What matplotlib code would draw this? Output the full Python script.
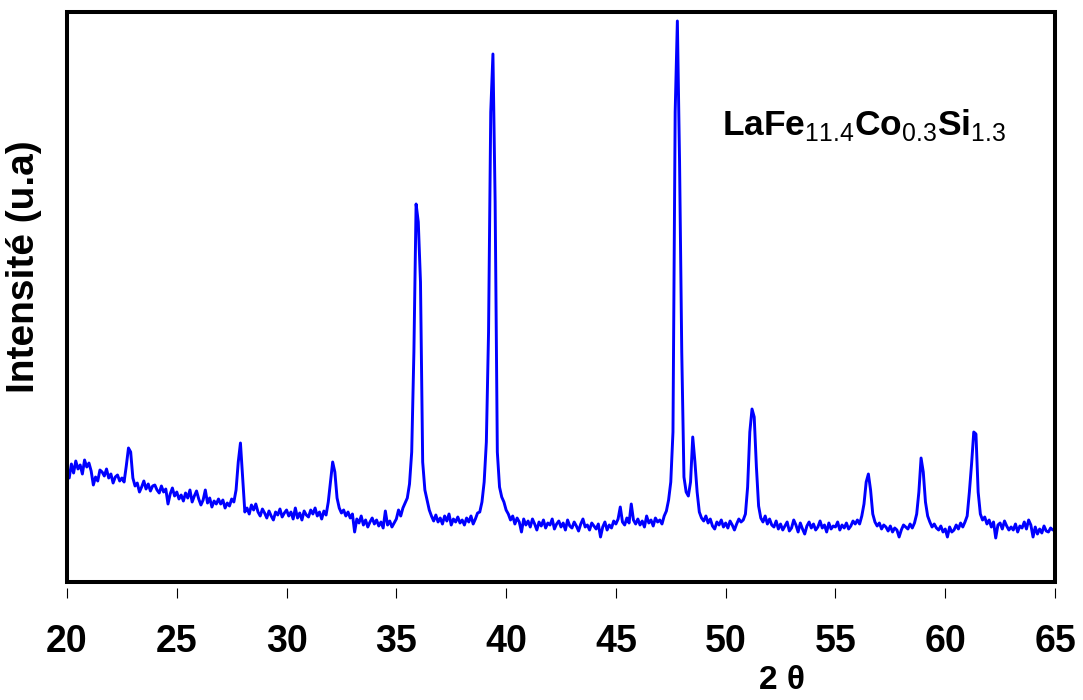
import numpy as np
import matplotlib.pyplot as plt
from matplotlib.patches import Rectangle

plt.rcParams['font.family'] = 'Liberation Sans'
plt.rcParams['mathtext.fontset'] = 'custom'
plt.rcParams['mathtext.rm'] = 'Liberation Sans'
plt.rcParams['mathtext.bf'] = 'Liberation Sans:bold'

# intensity (u.a), one value every 0.1 degree of 2 theta
intensity_20s = [112, 104, 118, 109, 121, 113, 117, 108, 122, 115,
                 119, 111, 97, 105, 101, 112, 110, 106, 113, 104,
                 108, 99, 105, 107, 101, 104, 100, 116, 134, 130,
                 104, 96, 99, 90, 95, 101, 93, 98, 91, 96,
                 97, 92, 89, 96, 90, 93, 78, 88, 94, 86,
                 90, 83, 87, 81, 89, 84, 92, 80, 86, 91,
                 83, 77, 82, 92, 79, 84, 75, 81, 78, 83,
                 78, 82, 74, 79, 76, 83, 80, 92, 120, 139,
                 105, 70, 74, 68, 77, 72, 78, 70, 66, 73,
                 69, 64, 71, 66, 62, 70, 67, 73, 65, 69]
intensity_30s = [72, 66, 70, 63, 74, 64, 69, 62, 71, 67,
                 65, 72, 68, 74, 66, 70, 63, 71, 67, 80,
                 100, 120, 110, 84, 74, 69, 72, 66, 70, 64,
                 68, 50, 63, 59, 66, 57, 62, 55, 60, 64,
                 58, 62, 56, 60, 54, 71, 57, 61, 55, 59,
                 63, 72, 66, 74, 79, 84, 98, 130, 230, 378,
                 360, 300, 120, 92, 82, 72, 66, 61, 67, 60,
                 64, 58, 66, 61, 68, 57, 63, 60, 65, 59,
                 62, 57, 64, 60, 66, 58, 63, 69, 70, 80,
                 100, 140, 250, 470, 528, 380, 130, 95, 85, 80]
intensity_40s = [72, 68, 62, 66, 58, 64, 60, 50, 63, 57,
                 61, 55, 63, 58, 52, 60, 56, 62, 54, 59,
                 57, 63, 53, 58, 61, 55, 59, 52, 62, 56,
                 54, 60, 56, 51, 58, 63, 55, 57, 52, 59,
                 56, 53, 58, 45, 55, 60, 52, 57, 54, 61,
                 58, 63, 75, 60, 57, 64, 59, 78, 62, 58,
                 63, 57, 61, 55, 66, 59, 62, 56, 64, 60,
                 62, 58, 66, 71, 82, 100, 150, 470, 561, 420,
                 230, 105, 90, 86, 100, 145, 120, 90, 70, 64,
                 61, 66, 59, 63, 56, 53, 60, 57, 62, 55]
intensity_50s = [59, 54, 61, 57, 52, 58, 63, 60, 62, 68,
                 95, 150, 173, 165, 115, 76, 64, 60, 66, 58,
                 63, 57, 55, 61, 53, 58, 52, 56, 60, 51,
                 54, 62, 57, 50, 59, 53, 48, 56, 60, 54,
                 58, 52, 55, 61, 54, 57, 50, 59, 53, 56,
                 55, 60, 52, 57, 54, 59, 53, 56, 61, 58,
                 62, 58, 66, 78, 100, 108, 92, 68, 60, 56,
                 59, 53, 57, 55, 51, 56, 50, 54, 52, 45,
                 52, 57, 55, 53, 58, 54, 59, 68, 90, 124,
                 110, 80, 66, 60, 55, 58, 54, 52, 56, 50]
intensity_60s = [53, 45, 55, 50, 52, 57, 53, 59, 55, 60,
                 66, 90, 118, 150, 148, 90, 68, 62, 65, 58,
                 62, 55, 60, 44, 57, 59, 53, 61, 56, 52,
                 55, 52, 58, 50, 56, 54, 60, 53, 62, 57,
                 45, 55, 48, 53, 49, 56, 51, 50, 54, 52,
                 52]

x_ticks = [20, 25, 30, 35, 40, 45, 50, 55, 60, 65]

intensity = np.concatenate([intensity_20s, intensity_30s, intensity_40s,
                            intensity_50s, intensity_60s])
two_theta = np.linspace(20, 65, len(intensity))

fig = plt.figure(figsize=(10.83, 7.0), dpi=100)
ax = fig.add_axes([67 / 1083, 118 / 700, 988 / 1083, 570 / 700])
ax.plot(two_theta, intensity, color='#0000ff', lw=2.1)
ax.set_xlim(20, 65)
ax.set_ylim(0, 570)

# frame drawn as a patch so the ticks can sit a little below it
for s in ax.spines.values():
    s.set_visible(False)
ax.spines['bottom'].set_position(('outward', 4.3))
ax.add_patch(Rectangle((0, 0), 1, 1, transform=ax.transAxes, fill=False,
                       lw=2.9, ec='black', clip_on=False, zorder=5))

ax.set_xticks(x_ticks, labels=[str(t) for t in x_ticks], fontweight='bold')
ax.set_yticks([])
ax.tick_params(axis='x', direction='out', length=7.2, width=0.8, pad=19,
               labelsize=27)

ax.set_xlabel('2 θ', fontsize=24, fontweight='bold')
ax.xaxis.set_label_coords(0.724, -0.172)
ax.xaxis.label.set_va('center')
ax.set_ylabel('Intensité (u.a)', fontsize=28, fontweight='bold')
ax.yaxis.set_label_coords(-0.0435, 0.553)
ax.yaxis.label.set_va('center')

ax.text(0.663, 0.784,
        r'$\mathbf{LaFe}_{\mathregular{11.4}}\mathbf{Co}_{\mathregular{0.3}}'
        r'\mathbf{Si}_{\mathregular{1.3}}$',
        transform=ax.transAxes, fontsize=25.5, va='baseline', ha='left')

fig.savefig('out.png', dpi=100)
